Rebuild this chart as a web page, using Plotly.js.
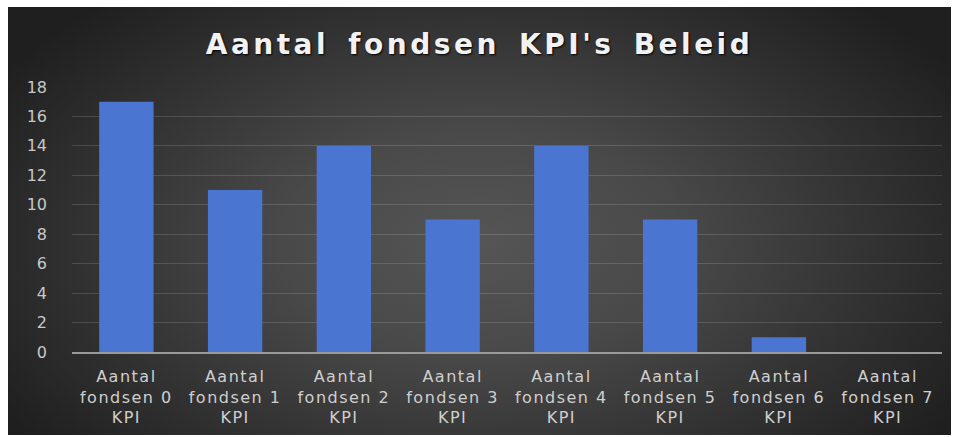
<!DOCTYPE html>
<html>
<head>
<meta charset="utf-8">
<script src="https://cdn.plot.ly/plotly-3.0.1.min.js"></script>
<style>
html,body{margin:0;padding:0;background:#ffffff;}
#bg{position:absolute;left:8px;top:7px;width:943px;height:428px;
background:radial-gradient(ellipse 60% 75% at 50% 55%, #555555 0%, #494949 35%, #323232 70%, #1f1f1f 100%);}
#chart{position:absolute;left:0;top:0;width:959px;height:437px;}
.gtitle{letter-spacing:3.5px;word-spacing:6px;}
.xtick text{letter-spacing:1.5px;}
</style>
</head>
<body>
<div id="bg"></div>
<div id="chart"></div>
<script>
const categories = [
  "Aantal<br>fondsen 0<br>KPI",
  "Aantal<br>fondsen 1<br>KPI",
  "Aantal<br>fondsen 2<br>KPI",
  "Aantal<br>fondsen 3<br>KPI",
  "Aantal<br>fondsen 4<br>KPI",
  "Aantal<br>fondsen 5<br>KPI",
  "Aantal<br>fondsen 6<br>KPI",
  "Aantal<br>fondsen 7<br>KPI"
];
const values = [17, 11, 14, 9, 14, 9, 1, 0];
const yTicks = [0, 2, 4, 6, 8, 10, 12, 14, 16, 18];
const titleText = "Aantal fondsen KPI's Beleid";

const trace = {
  type: 'bar',
  x: categories,
  y: values,
  marker: {color: '#4a76d2', line: {width: 0}},
  hoverinfo: 'x+y'
};

const layout = {
  width: 959,
  height: 437,
  margin: {l: 72, r: 17, t: 87, b: 85, pad: 0},
  paper_bgcolor: 'rgba(0,0,0,0)',
  plot_bgcolor: 'rgba(0,0,0,0)',
  bargap: 0.5,
  showlegend: false,
  title: {
    text: '<b>' + titleText + '</b>',
    x: 0.5, xanchor: 'center',
    y: 0.9, yanchor: 'middle',
    yref: 'container',
    font: {family: 'DejaVu Sans', size: 28, color: '#f2f2f2', shadow: '1px 1px 2px #000000'}
  },
  xaxis: {
    type: 'category',
    showgrid: false,
    showline: true,
    linecolor: '#9a9a9a',
    linewidth: 1.5,
    ticks: '',
    ticklabelstandoff: 9,
    tickfont: {family: 'DejaVu Sans', size: 16, color: '#cfcfcf'},
    tickangle: 0,
    fixedrange: true
  },
  yaxis: {
    range: [0, 18],
    tickvals: yTicks,
    ticktext: yTicks.map(String),
    showgrid: true,
    gridcolor: 'rgba(255,255,255,0.14)',
    gridwidth: 1,
    zeroline: false,
    showline: false,
    ticks: '',
    ticklabelstandoff: 24,
    tickfont: {family: 'DejaVu Sans', size: 16, color: '#c8c8c8'},
    fixedrange: true
  }
};

Plotly.newPlot('chart', [trace], layout, {displayModeBar: false, staticPlot: true});
</script>
</body>
</html>
